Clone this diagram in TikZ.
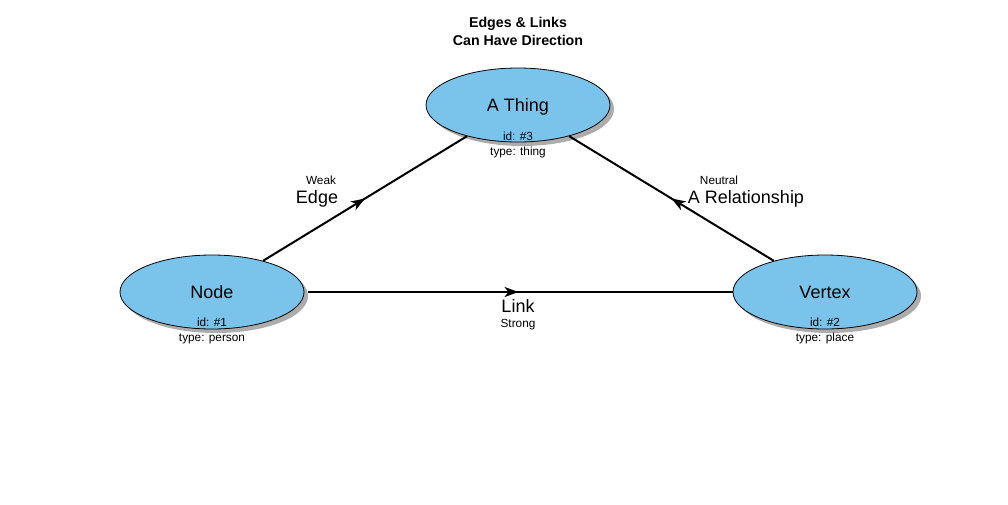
\documentclass[tikz,border=0pt]{standalone}
\usepackage{fontspec}
\setmainfont{Liberation Sans}
\usetikzlibrary{shapes.geometric, shadows, arrows.meta, decorations.markings}
\definecolor{nodeblue}{RGB}{122,196,236}
\definecolor{shadowgray}{RGB}{172,172,172}

\begin{document}
\begin{tikzpicture}[x=1pt, y=-1pt,
	thing/.style={ellipse, draw, line width=0.8pt, fill=nodeblue, minimum width=184pt, minimum height=74pt, inner sep=0pt, text depth=0pt, font=\fontsize{18}{20}\selectfont, drop shadow={shadow xshift=4pt, shadow yshift=-4pt, fill=shadowgray, opacity=1}},
	info/.style={align=center, font=\fontsize{11.8}{15}\selectfont},
	big/.style={font=\fontsize{18}{20}\selectfont},
	small/.style={font=\fontsize{11.8}{13}\selectfont},
	link/.style={line width=2pt, postaction=decorate, decoration={markings, mark=at position 0.5 with {\arrow{Stealth[length=14pt,width=10pt,inset=4pt]}}}}]
	\useasboundingbox (0,0) rectangle (1008,504);
	% title
	\node [align=center, font=\bfseries\fontsize{14.2}{18}\selectfont] (title) at (518,31) {Edges \& Links\\Can Have Direction};
	% the three things
	\node [thing] (thing) at (518,105) {A Thing};
	\node [thing] (node) at (212,292) {Node};
	\node [thing] (vertex) at (825,292) {Vertex};
	\node [info] (thinginfo) at (518,145) {id: \#3\\type: thing};
	\node [info] (nodeinfo) at (212,331) {id: \#1\\type: person};
	\node [info] (vertexinfo) at (825,331) {id: \#2\\type: place};
	% connectors
	\draw [link] (node) -- (thing);
	\draw [link, shorten <=4pt] (node) -- (vertex);
	\draw [link] (vertex) -- (thing);
	% connector labels
	\node [small] (weak) at (321,180) {Weak};
	\node [big] (edge) at (317,199) {Edge};
	\node [small] (neutral) at (719,180) {Neutral};
	\node [big] (relation) at (746,199) {A Relationship};
	\node [big] (linklbl) at (518,306) {Link};
	\node [small] (strong) at (518,325) {Strong};
\end{tikzpicture}
\end{document}
